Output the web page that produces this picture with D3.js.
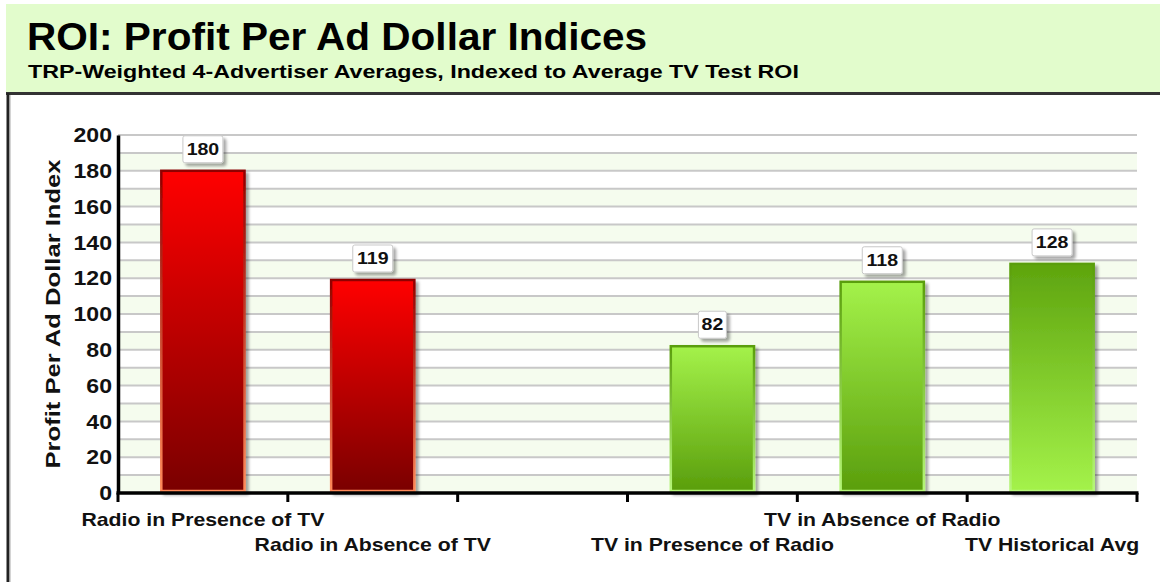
<!DOCTYPE html>
<html>
<head>
<meta charset="utf-8">
<script src="https://cdn.jsdelivr.net/npm/d3@7"></script>
<style>
  body { margin: 0; background: #fff; }
  svg { display: block; font-family: Arial, "Liberation Sans", sans-serif; }
</style>
</head>
<body>
<div id="vis"></div>
<script>
'use strict';

// chart data
var categories = ['Radio in Presence of TV', 'Radio in Absence of TV', '',
    'TV in Presence of Radio', 'TV in Absence of Radio', 'TV Historical Avg'];
var values = [180, 119, null, 82, 118, 128];
var fills = ['red', 'red', null, 'green', 'green', 'greenRev'];
var yTicks = [0, 20, 40, 60, 80, 100, 120, 140, 160, 180, 200];

var width = 1160, height = 582;
var margin = { left: 118, right: 1137, top: 135, bottom: 493 };

var svg = d3.select('#vis').append('svg')
    .attr('width', width)
    .attr('height', height);

var defs = svg.append('defs');

// the original font is wider than Arial: stretch glyphs horizontally around the anchor
function stretch(sel, k) {
    sel.each(function () {
        var t = d3.select(this);
        var x0 = +t.attr('x') || 0;
        var prev = t.attr('transform') || '';
        t.attr('transform', prev + ' translate(' + (x0 * (1 - k)) + ',0) scale(' + k + ',1)');
    });
}

function linGrad(id, top, bottom) {
    var g = defs.append('linearGradient').attr('id', id)
        .attr('x1', 0).attr('y1', 0).attr('x2', 0).attr('y2', 1);
    g.append('stop').attr('offset', '0%').attr('stop-color', top);
    g.append('stop').attr('offset', '100%').attr('stop-color', bottom);
}
linGrad('fill-red', '#ff0000', '#7a0000');
linGrad('stroke-red', '#900000', '#ff8a5a');
linGrad('fill-green', '#a4f24a', '#5a9e0c');
linGrad('stroke-green', '#5a9e0c', '#b6f67a');
linGrad('fill-greenRev', '#5ea40e', '#a4f24a');
linGrad('stroke-greenRev', '#5a9e0c', '#b6f67a');

var shadow = defs.append('filter').attr('id', 'shadow')
    .attr('x', '-20%').attr('y', '-20%').attr('width', '150%').attr('height', '150%');
shadow.append('feGaussianBlur').attr('in', 'SourceAlpha').attr('stdDeviation', 1.5);
shadow.append('feOffset').attr('dx', 3).attr('dy', 3).attr('result', 'off');
shadow.append('feComponentTransfer').append('feFuncA').attr('type', 'linear').attr('slope', 0.35);
var merge = shadow.append('feMerge');
merge.append('feMergeNode');
merge.append('feMergeNode').attr('in', 'SourceGraphic');

// header
svg.append('rect').attr('x', 6).attr('y', 4).attr('width', width - 6).attr('height', 89)
    .attr('fill', '#e2fccc');
svg.append('line').attr('x1', 6).attr('x2', width).attr('y1', 93.5).attr('y2', 93.5)
    .attr('stroke', '#333').attr('stroke-width', 3);
svg.append('line').attr('x1', 8).attr('x2', 8).attr('y1', 93).attr('y2', height)
    .attr('stroke', '#222').attr('stroke-width', 3);
svg.append('line').attr('x1', 10).attr('x2', 10).attr('y1', 95).attr('y2', height)
    .attr('stroke', '#aaa').attr('stroke-width', 1);

svg.append('text').attr('x', 27).attr('y', 50)
    .attr('font-size', 39).attr('font-weight', 'bold').attr('fill', '#000')
    .text('ROI: Profit Per Ad Dollar Indices')
    .call(stretch, 1.04);
svg.append('text').attr('x', 28).attr('y', 78)
    .attr('font-size', 18).attr('font-weight', 'bold').attr('fill', '#000')
    .text('TRP-Weighted 4-Advertiser Averages, Indexed to Average TV Test ROI')
    .call(stretch, 1.29);

// scales
var x = d3.scaleBand().domain(d3.range(categories.length))
    .range([margin.left, margin.right]).paddingInner(0).paddingOuter(0);
var y = d3.scaleLinear().domain([0, 200]).range([margin.bottom, margin.top]);

// alternating bands
var bandVals = d3.range(0, 200, 10);
svg.append('g').selectAll('rect').data(bandVals).enter().append('rect')
    .attr('x', margin.left)
    .attr('width', margin.right - margin.left)
    .attr('y', function (d) { return y(d + 10); })
    .attr('height', function (d) { return y(d) - y(d + 10); })
    .attr('fill', function (d) { return (d / 10) % 2 === 0 ? '#f5fcee' : '#ffffff'; });

// gridlines
svg.append('g').selectAll('line').data(d3.range(10, 210, 10)).enter().append('line')
    .attr('x1', margin.left).attr('x2', margin.right)
    .attr('y1', function (d) { return y(d); })
    .attr('y2', function (d) { return y(d); })
    .attr('stroke', '#c8c8c8').attr('stroke-width', 2);

// bars
var barData = values.map(function (v, i) { return { i: i, v: v, f: fills[i] }; })
    .filter(function (d) { return d.v !== null; });
var barW = x.bandwidth() * 0.49;

svg.append('g').selectAll('rect').data(barData).enter().append('rect')
    .attr('x', function (d) { return x(d.i) + (x.bandwidth() - barW) / 2; })
    .attr('y', function (d) { return y(d.v); })
    .attr('width', barW)
    .attr('height', function (d) { return y(0) - y(d.v) - 2; })
    .attr('fill', function (d) { return 'url(#fill-' + d.f + ')'; })
    .attr('stroke', function (d) { return 'url(#stroke-' + d.f + ')'; })
    .attr('stroke-width', 2.5)
    .attr('filter', 'url(#shadow)');

// value labels
var lab = svg.append('g').selectAll('g').data(barData).enter().append('g')
    .attr('transform', function (d) {
        return 'translate(' + (x(d.i) + x.bandwidth() / 2) + ',' + (y(d.v) - 22) + ')';
    });
lab.append('rect')
    .attr('x', function (d) { return String(d.v).length > 2 ? -20 : -14; })
    .attr('width', function (d) { return String(d.v).length > 2 ? 40 : 28; })
    .attr('y', -13).attr('height', 27).attr('rx', 2)
    .attr('fill', '#fff').attr('stroke', '#c8c8c8').attr('stroke-width', 1)
    .attr('filter', 'url(#shadow)');
lab.append('text')
    .attr('text-anchor', 'middle').attr('dy', '0.36em')
    .attr('font-size', 17).attr('font-weight', 'bold').attr('fill', '#111')
    .text(function (d) { return d.v; })
    .call(stretch, 1.15);

// y axis
var yAxis = svg.append('g').attr('transform', 'translate(' + margin.left + ',0)')
    .call(d3.axisLeft(y).tickValues(yTicks).tickSize(0).tickPadding(6));
yAxis.select('.domain').attr('stroke', '#000').attr('stroke-width', 3.5);
yAxis.selectAll('text').attr('font-size', 21).attr('font-weight', 'bold')
    .attr('fill', '#111').attr('font-family', 'Arial, "Liberation Sans", sans-serif')
    .call(stretch, 1.1);

// x axis
var xAxisG = svg.append('g').attr('transform', 'translate(0,' + margin.bottom + ')');
xAxisG.append('line').attr('x1', margin.left - 1.5).attr('x2', margin.right + 1.5)
    .attr('y1', 0).attr('y2', 0).attr('stroke', '#000').attr('stroke-width', 3.5);
var edges = d3.range(categories.length + 1).map(function (i) {
    return i < categories.length ? x(i) : x(i - 1) + x.bandwidth();
});
xAxisG.selectAll('.tick').data(edges).enter().append('line')
    .attr('x1', function (d) { return d; }).attr('x2', function (d) { return d; })
    .attr('y1', 0).attr('y2', 9)
    .attr('stroke', '#000').attr('stroke-width', 3);
xAxisG.selectAll('text').data(categories).enter().append('text')
    .attr('x', function (d, i) { return x(i) + x.bandwidth() / 2; })
    .attr('y', function (d, i) { return i % 2 === 0 ? 33 : 58; })
    .attr('text-anchor', 'middle')
    .attr('font-size', 18).attr('font-weight', 'bold').attr('fill', '#111')
    .text(function (d) { return d; })
    .call(stretch, 1.18);

// y axis title
svg.append('text')
    .attr('transform', 'translate(60,' + ((margin.top + margin.bottom) / 2) + ') rotate(-90)')
    .attr('text-anchor', 'middle')
    .attr('font-size', 20).attr('font-weight', 'bold').attr('fill', '#111')
    .text('Profit Per Ad Dollar Index')
    .call(stretch, 1.28);
</script>
</body>
</html>
